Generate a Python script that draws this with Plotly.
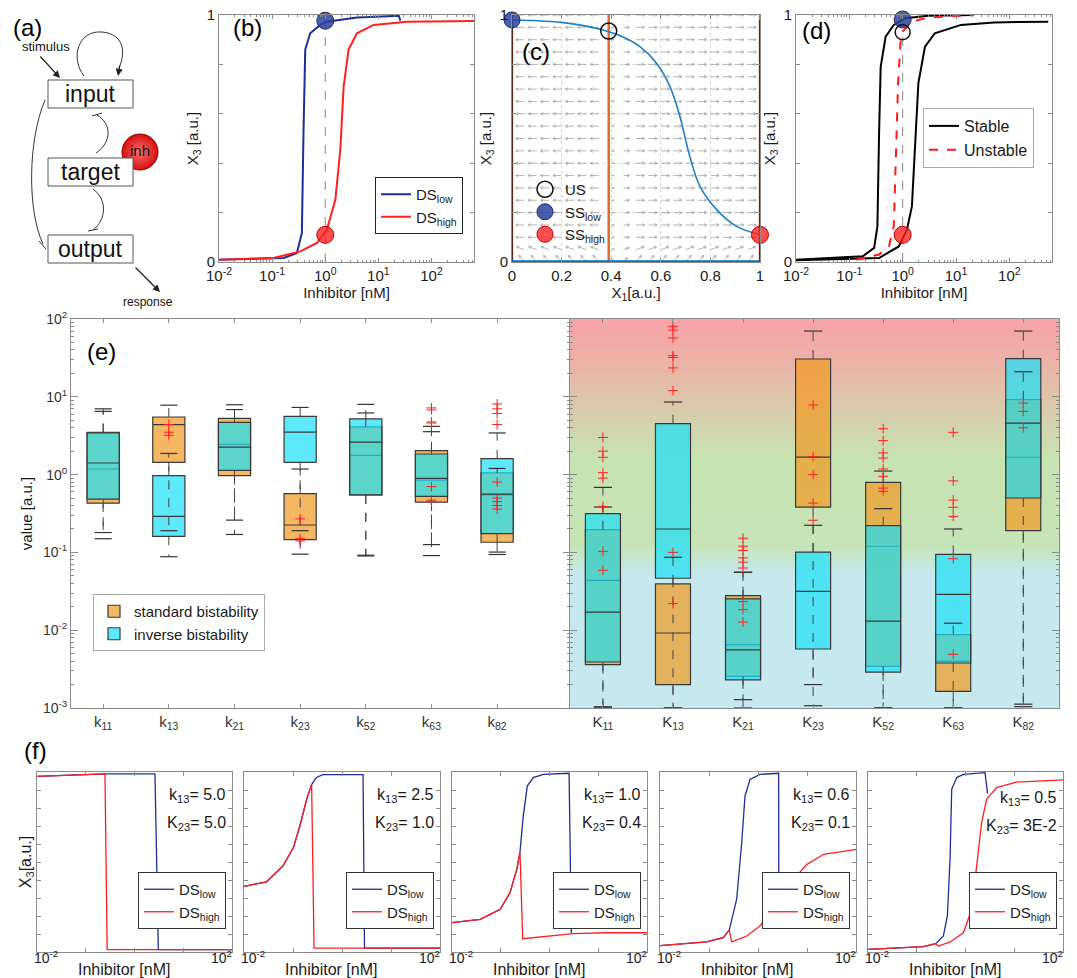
import math
import plotly.graph_objects as go

W, H = 1077, 978
FONT = "Liberation Sans, Arial, Helvetica, sans-serif"
AXC = "#8c8c8c"
TXT = "#1a1a1a"
BLUE_DS = "#1c2f94"
RED_DS = "#ff1f1f"
NULL_BLUE = "#1f7fc4"
ORANGE_LINE = "#dd6b30"


def px_x(p):
    return p / W


def px_y(p):
    return 1 - p / H


# ---------------------------------------------------------------- data
# panel (b): dose response, X3 vs inhibitor
b_low_inhibitor = [0.010, 0.164, 0.292, 0.363, 0.389, 0.420, 0.521, 0.805, 1.07, 3.95, 20.0, 24.2, 26.0]
b_low_x3 = [0.009, 0.016, 0.036, 0.117, 0.52, 0.86, 0.926, 0.96, 0.973, 0.99, 0.996, 0.997, 0.977]
b_high_inhibitor = [0.010, 0.106, 0.339, 0.697, 1.07, 1.55, 1.92, 2.22, 2.75, 3.95, 8.13, 34.7, 630]
b_high_x3 = [0.009, 0.016, 0.043, 0.077, 0.13, 0.252, 0.454, 0.71, 0.86, 0.926, 0.96, 0.973, 0.976]
b_inhibitor_ref = 1.0
b_ss_low_x3 = 0.977
b_ss_high_x3 = 0.11

# panel (c): phase plane
c_null_x1 = [0, 0.1, 0.2, 0.3, 0.388, 0.45, 0.516, 0.583, 0.637, 0.677, 0.717, 0.758, 0.825, 0.906, 1.0]
c_null_x3 = [0.98, 0.977, 0.97, 0.955, 0.933, 0.91, 0.872, 0.805, 0.71, 0.589, 0.427, 0.306, 0.212, 0.144, 0.11]
c_orange_x1 = [0.0, 0.39, 1.0]
c_black_x1 = [0.0, 1.0]
c_black_top = 0.98
c_us = (0.39, 0.935)
c_ss_low = (0.0, 0.98)
c_ss_high = (1.0, 0.11)
quiver_cols = [round(0.05 * i, 2) for i in range(1, 20)]
quiver_rows = [round(0.05 * j, 2) for j in range(0, 21)]
quiver_dir = [-1] * 7 + [1] * 12
quiver_len = [0.035] * 7 + [0.012, 0.024] + [0.035] * 10
quiver_tilt = [50, 20] + [0] * 19

# panel (d): bifurcation
d_stable_low_inhibitor = [0.01, 0.178, 0.292, 0.336, 0.361, 0.387, 0.479, 0.682, 1.12, 3.02, 21.9]
d_stable_low_x3 = [0.009, 0.023, 0.057, 0.144, 0.52, 0.79, 0.912, 0.96, 0.987, 0.997, 1.0]
d_stable_high_inhibitor = [0.01, 0.361, 0.843, 1.20, 1.49, 1.71, 1.97, 2.62, 4.01, 12.4, 51.3, 537]
d_stable_high_x3 = [0.007, 0.016, 0.063, 0.13, 0.225, 0.454, 0.724, 0.872, 0.926, 0.96, 0.97, 0.973]
d_unstable_inhibitor = [0.134, 0.361, 0.552, 0.682, 0.753, 0.820, 0.906, 1.0, 1.49, 3.02, 21.9]
d_unstable_x3 = [0.009, 0.03, 0.063, 0.144, 0.454, 0.724, 0.885, 0.933, 0.973, 0.99, 1.0]
d_ss_low_x3 = 0.982
d_us_x3 = 0.93
d_ss_high_x3 = 0.11

# panel (e): parameter distributions (box statistics)
params_small = ["k<sub>11</sub>", "k<sub>13</sub>", "k<sub>21</sub>", "k<sub>23</sub>",
                "k<sub>52</sub>", "k<sub>63</sub>", "k<sub>82</sub>"]
params_big = ["K<sub>11</sub>", "K<sub>13</sub>", "K<sub>21</sub>", "K<sub>23</sub>",
              "K<sub>52</sub>", "K<sub>63</sub>", "K<sub>82</sub>"]

std_small_q1 = [0.43, 1.44, 0.97, 0.146, 0.55, 0.443, 0.135]
std_small_med = [1.18, 4.38, 2.45, 0.225, 1.77, 0.85, 0.55]
std_small_q3 = [3.5, 5.5, 5.29, 0.569, 4.1, 2.03, 1.05]
std_small_lo = [0.15, 0.19, 0.17, 0.095, 0.09, 0.091, 0.094]
std_small_hi = [7.0, 7.8, 7.9, 1.18, 6.2, 3.56, 1.2]

inv_small_q1 = [0.485, 0.161, 1.13, 1.44, 0.55, 0.525, 0.174]
inv_small_med = [1.41, 0.29, 2.26, 3.52, 2.62, 0.895, 0.56]
inv_small_q3 = [3.43, 0.97, 4.7, 5.6, 5.19, 1.84, 1.6]
inv_small_lo = [0.18, 0.088, 0.26, 0.19, 0.092, 0.126, 0.101]
inv_small_hi = [6.5, 1.87, 6.85, 7.3, 8.0, 4.17, 3.43]

std_big_q1 = [0.0036, 0.002, 0.00255, 0.383, 0.00343, 0.00164, 0.19]
std_big_med = [0.0438, 0.0092, 0.00652, 1.68, 0.12, 0.004, 1.67]
std_big_q3 = [0.196, 0.0393, 0.0278, 30.6, 0.796, 0.00877, 9.18]
std_big_lo = [0.00103, 0.001, 0.00128, 0.00107, 0.001, 0.001, 0.00112]
std_big_hi = [0.383, 0.0865, 0.0555, 70, 1.11, 0.0123, 21]

inv_big_q1 = [0.0039, 0.0465, 0.0023, 0.00573, 0.0029, 0.00379, 0.5]
inv_big_med = [0.0171, 0.2, 0.00557, 0.0316, 0.0131, 0.0289, 4.6]
inv_big_q3 = [0.315, 4.52, 0.0252, 0.101, 0.221, 0.0944, 30.9]
inv_big_lo = [0.00103, 0.001, 0.001, 0.002, 0.001, 0.001, 0.00104]
inv_big_hi = [0.685, 8.57, 0.0555, 0.223, 0.365, 0.2, 70]

out_small_idx = [1, 1, 1, 3, 3, 3, 5, 5, 5, 5, 5, 5, 5, 6, 6, 6, 6, 6, 6, 6, 6, 6]
out_small_val = [4.4, 3.5, 3.2, 0.27, 0.15, 0.14, 7.2, 6.8, 4.75, 4.6, 0.7, 0.47, 0.45,
                 8.1, 7.0, 6.1, 4.4, 0.8, 0.5, 0.45, 0.4, 0.36]
out_big_idx = [0] * 8 + [1] * 9 + [2] * 9 + [3] * 5 + [4] * 8 + [5] * 7 + [6] * 3
out_big_val = [3.0, 2.0, 1.67, 1.06, 0.9, 0.39, 0.103, 0.059,
               80, 72, 57, 33.8, 32, 23.5, 12, 0.1, 0.022,
               0.152, 0.12, 0.106, 0.085, 0.075, 0.063, 0.0233, 0.0184, 0.0127,
               7.85, 1.7, 1.0, 0.43, 0.259,
               3.89, 2.73, 1.9, 1.63, 1.18, 0.95, 0.67, 0.61,
               3.49, 0.83, 0.47, 0.38, 0.29, 0.083, 0.0049,
               8.3, 6.5, 4.0]

# panel (f): five dose-response examples
f_k13 = ["5.0", "2.5", "1.0", "0.6", "0.5"]
f_K23 = ["5.0", "1.0", "0.4", "0.1", "3E-2"]
f_low_inhibitor = [
    [0.01, 0.248, 2.63, 3.08, 100],
    [0.01, 0.0288, 0.0631, 0.102, 0.138, 0.191, 0.240, 0.30, 0.407, 2.69, 2.88, 100],
    [0.01, 0.038, 0.0977, 0.155, 0.214, 0.248, 0.29, 0.35, 0.465, 0.743, 2.52, 2.81],
    [0.01, 0.089, 0.195, 0.259, 0.367, 0.465, 0.543, 0.687, 1.1, 2.64, 2.66],
    [0.01, 0.137, 0.245, 0.352, 0.425, 0.482, 0.521, 0.661, 0.904, 2.51, 2.84],
]
f_low_x3 = [
    [0.976, 0.99, 0.99, 0.013, 0.013],
    [0.365, 0.39, 0.48, 0.58, 0.70, 0.85, 0.93, 0.97, 0.985, 0.985, 0.022, 0.022],
    [0.163, 0.181, 0.237, 0.33, 0.46, 0.556, 0.756, 0.922, 0.969, 0.987, 0.993, 0.104],
    [0.035, 0.056, 0.08, 0.122, 0.293, 0.607, 0.867, 0.959, 0.987, 0.993, 0.30],
    [0.015, 0.03, 0.046, 0.089, 0.2, 0.515, 0.904, 0.969, 0.987, 0.996, 0.88],
]
f_high_inhibitor = [
    [0.01, 0.248, 0.275, 100],
    [0.01, 0.0288, 0.0631, 0.102, 0.138, 0.191, 0.240, 0.269, 100],
    [0.01, 0.038, 0.0977, 0.155, 0.214, 0.248, 0.282, 0.635, 3.04, 14.5, 100],
    [0.01, 0.089, 0.195, 0.259, 0.29, 0.589, 1.1, 2.09, 4.57, 10, 21.9, 100],
    [0.01, 0.137, 0.245, 0.279, 0.482, 0.904, 1.34, 1.69, 2.14, 2.71, 4.34, 11.1, 100],
]
f_high_x3 = [
    [0.976, 0.99, 0.013, 0.013],
    [0.365, 0.39, 0.48, 0.58, 0.70, 0.85, 0.93, 0.022, 0.022],
    [0.163, 0.181, 0.237, 0.33, 0.46, 0.556, 0.074, 0.083, 0.102, 0.107, 0.107],
    [0.035, 0.056, 0.08, 0.122, 0.056, 0.089, 0.144, 0.256, 0.385, 0.487, 0.543, 0.57],
    [0.015, 0.03, 0.046, 0.033, 0.056, 0.107, 0.237, 0.478, 0.719, 0.848, 0.913, 0.944, 0.956],
]

# ---------------------------------------------------------------- layout geometry
fig = go.Figure()
tickfont = dict(family=FONT, size=15, color=TXT)
titlefont = dict(family=FONT, size=15, color=TXT)


def common(**kw):
    d = dict(showline=True, linecolor=AXC, linewidth=1, mirror="ticks", ticks="inside",
             ticklen=4, tickcolor=AXC, showgrid=False, zeroline=False, tickfont=tickfont,
             fixedrange=True)
    d.update(kw)
    return d


def log_minor(lo, hi):
    return [m * 10 ** e for e in range(lo, hi) for m in range(2, 10)]


def sup(e):
    return "10<sup>%d</sup>" % e


axes = {}


def set_axes(n, xpx, ypx, xkw, ykw):
    s = "" if n == 1 else str(n)
    axes["xaxis" + s] = common(domain=[px_x(xpx[0]), px_x(xpx[1])], anchor="y" + s, **xkw)
    axes["yaxis" + s] = common(domain=[px_y(ypx[1]), px_y(ypx[0])], anchor="x" + s, **ykw)


inhib_x = dict(type="log", range=[-2, 2.8], tickmode="array",
               tickvals=[0.01, 0.1, 1, 10, 100], ticktext=[sup(e) for e in range(-2, 3)],
               minor=dict(tickvals=log_minor(-2, 3), ticks="inside", ticklen=2, tickcolor=AXC),
               title=dict(text="Inhibitor [nM]", font=titlefont, standoff=3))
unit_y = dict(range=[0, 1], tickmode="array", tickvals=[0, 1], ticktext=["0", "1"],
              minor=dict(tickvals=[0.2, 0.4, 0.6, 0.8], ticks="inside", ticklen=4, tickcolor=AXC),
              title=dict(text="X<sub>3</sub> [a.u.]", font=titlefont, standoff=4))

# (b)
set_axes(1, (219, 474), (15, 262), inhib_x, unit_y)
# (c)
set_axes(2, (512, 760), (15, 262),
         dict(range=[0, 1], tickmode="array", tickvals=[0, 0.2, 0.4, 0.6, 0.8, 1],
              ticktext=["0", "0.2", "0.4", "0.6", "0.8", "1"],
              minor=dict(tickvals=[0.2, 0.4, 0.6, 0.8], showgrid=True, gridcolor="#d6d6d6",
                         griddash="dot", ticks=""),
              title=dict(text="X<sub>1</sub>[a.u.]", font=titlefont, standoff=0)),
         dict(unit_y, minor=dict(tickvals=[0.2, 0.4, 0.6, 0.8], ticks="inside", ticklen=4,
                                 tickcolor=AXC, showgrid=True, gridcolor="#d6d6d6", griddash="dot")))
# (d)
set_axes(3, (796, 1052), (15, 262), inhib_x, unit_y)

# (e)
e_y = dict(type="log", range=[-3, 2], tickmode="array",
           tickvals=[1e-3, 1e-2, 1e-1, 1, 10, 100], ticktext=[sup(e) for e in range(-3, 3)],
           minor=dict(tickvals=log_minor(-3, 2), ticks="inside", ticklen=3, tickcolor=AXC),
           ticklen=7, tickfont=dict(family=FONT, size=14, color="#333"))
set_axes(4, (71, 570), (319, 708),
         dict(range=[-0.49, 7.11], tickmode="array", tickvals=list(range(7)), ticktext=params_small,
              tickfont=dict(family=FONT, size=15, color="#333")),
         dict(e_y, title=dict(text="value [a.u.]", font=titlefont, standoff=6)))
set_axes(5, (570, 1059), (319, 708),
         dict(range=[-0.47, 6.51], tickmode="array", tickvals=list(range(7)), ticktext=params_big,
              tickfont=dict(family=FONT, size=15, color="#333")),
         dict(e_y, showticklabels=False))

# (f)
f_panels = [(37, 232), (244, 440), (452, 647), (660, 856), (868, 1063)]
for i, (l, r) in enumerate(f_panels):
    ykw = dict(range=[0, 1], tickmode="array", tickvals=[0.1 * k for k in range(1, 10)],
               showticklabels=False)
    if i == 0:
        ykw["title"] = dict(text="X<sub>3</sub>[a.u.]", font=dict(family=FONT, size=16, color=TXT),
                            standoff=0)
    set_axes(6 + i, (l, r), (772, 952),
             dict(type="log", range=[-2, 2], tickmode="array", tickvals=[0.1, 1, 10],
                  showticklabels=False),
             ykw)

# (a) diagram canvas
axes["xaxis11"] = dict(domain=[0, px_x(190)], range=[0, 190], visible=False, fixedrange=True,
                       anchor="y11")
axes["yaxis11"] = dict(domain=[px_y(310), 1], range=[310, 0], visible=False, fixedrange=True,
                       anchor="x11")

shapes = []
annotations = []

# ---------------------------------------------------------------- (a) diagram
for (x0, y0, x1, y1) in [(48, 80, 133, 108), (48, 158, 133, 186), (48, 235, 133, 263)]:
    shapes.append(dict(type="rect", xref="x11", yref="y11", x0=x0, y0=y0, x1=x1, y1=y1,
                       line=dict(color="#555", width=1), fillcolor="white"))
for p in ["M 84 76 C 70 58, 78 30, 102 32 C 124 34, 126 52, 119 68",
          "M 96 153 C 112 142, 112 124, 97 115", "M 92 116 L 102 113",
          "M 93 189 C 108 200, 106 220, 93 230", "M 88 231 L 98 229",
          "M 45 100 C 28 140, 27 210, 43 244", "M 39 241 L 46 249"]:
    shapes.append(dict(type="path", xref="x11", yref="y11", path=p,
                       line=dict(color="#333", width=1)))
for (tx, ty, hx, hy) in [(39, 55, 60, 78), (120, 64, 118, 76), (134, 266, 160, 292)]:
    annotations.append(dict(xref="x11", yref="y11", axref="x11", ayref="y11", x=hx, y=hy,
                            ax=tx, ay=ty, text="", showarrow=True, arrowhead=2, arrowsize=1.1,
                            arrowwidth=1.3, arrowcolor="#222", standoff=0))
for (t, x, y, s) in [("stimulus", 46, 46, 13), ("input", 90, 94, 23), ("target", 90, 172, 23),
                     ("output", 90, 249, 23), ("response", 148, 302, 12)]:
    annotations.append(dict(xref="x11", yref="y11", x=x, y=y, text=t, showarrow=False,
                            font=dict(family=FONT, size=s, color="#111")))
fig.add_trace(go.Scatter(x=[140], y=[152], mode="markers+text", text=["inh"],
                         textfont=dict(family=FONT, size=15, color="#111"),
                         marker=dict(size=36, color="#d40f0f",
                                     gradient=dict(type="radial", color="#ff7070"),
                                     line=dict(color="#8a0000", width=1)),
                         xaxis="x11", yaxis="y11", showlegend=False, hoverinfo="skip",
                         cliponaxis=False))

# ---------------------------------------------------------------- (b)
fig.add_trace(go.Scatter(x=[b_inhibitor_ref, b_inhibitor_ref], y=[0, 1], mode="lines",
                         line=dict(color="#888", width=1, dash="dash"), showlegend=False,
                         hoverinfo="skip", xaxis="x", yaxis="y"))
fig.add_trace(go.Scatter(x=b_low_inhibitor, y=b_low_x3, mode="lines", name="DS<sub>low</sub>",
                         line=dict(color=BLUE_DS, width=2), xaxis="x", yaxis="y", legend="legend"))
fig.add_trace(go.Scatter(x=b_high_inhibitor, y=b_high_x3, mode="lines", name="DS<sub>high</sub>",
                         line=dict(color=RED_DS, width=2), xaxis="x", yaxis="y", legend="legend"))
fig.add_trace(go.Scatter(x=[b_inhibitor_ref], y=[b_ss_low_x3], mode="markers", showlegend=False,
                         marker=dict(size=17, color="rgba(45,65,155,0.85)",
                                     line=dict(color="#1d2c70", width=1)),
                         xaxis="x", yaxis="y", cliponaxis=False))
fig.add_trace(go.Scatter(x=[b_inhibitor_ref], y=[b_ss_high_x3], mode="markers", showlegend=False,
                         marker=dict(size=17, color="rgba(255,30,30,0.78)",
                                     line=dict(color="#c00000", width=1)),
                         xaxis="x", yaxis="y", cliponaxis=False))

# ---------------------------------------------------------------- (c)
qx, qy = [], []
for ci, x in enumerate(quiver_cols):
    for rj, y in enumerate(quiver_rows):
        tilt = math.radians(quiver_tilt[rj])
        th = tilt if quiver_dir[ci] > 0 else math.pi - tilt
        L = quiver_len[ci]
        tx, ty = x + L * math.cos(th), y + L * math.sin(th)
        qx += [x, tx, None]
        qy += [y, ty, None]
        hl = min(0.012, 0.6 * L)
        for da in (0.5, -0.5):
            qx += [tx, tx - hl * math.cos(th + da), None]
            qy += [ty, ty - hl * math.sin(th + da), None]
fig.add_trace(go.Scatter(x=qx, y=qy, mode="lines", line=dict(color="#a3a3a3", width=0.8),
                         showlegend=False, hoverinfo="skip", xaxis="x2", yaxis="y2"))
for xv in c_orange_x1:
    fig.add_trace(go.Scatter(x=[xv, xv], y=[0, 1], mode="lines",
                             line=dict(color=ORANGE_LINE, width=2.5), showlegend=False,
                             hoverinfo="skip", xaxis="x2", yaxis="y2", cliponaxis=False))
for xv in c_black_x1:
    fig.add_trace(go.Scatter(x=[xv, xv], y=[0, c_black_top], mode="lines",
                             line=dict(color="#111", width=1.4), showlegend=False,
                             hoverinfo="skip", xaxis="x2", yaxis="y2", cliponaxis=False))
fig.add_trace(go.Scatter(x=[0, 1], y=[0, 0], mode="lines", line=dict(color="#0072bd", width=3.5),
                         showlegend=False, hoverinfo="skip", xaxis="x2", yaxis="y2",
                         cliponaxis=False))
fig.add_trace(go.Scatter(x=c_null_x1, y=c_null_x3, mode="lines", line=dict(color=NULL_BLUE, width=1.6),
                         showlegend=False, hoverinfo="skip", xaxis="x2", yaxis="y2",
                         line_shape="spline"))
fig.add_trace(go.Scatter(x=[c_us[0]], y=[c_us[1]], mode="markers", name="US",
                         marker=dict(symbol="circle-open", size=16, color="#111",
                                     line=dict(width=1.5)),
                         xaxis="x2", yaxis="y2", legend="legend2", cliponaxis=False))
fig.add_trace(go.Scatter(x=[c_ss_low[0]], y=[c_ss_low[1]], mode="markers", name="SS<sub>low</sub>",
                         marker=dict(size=16, color="rgba(45,65,155,0.85)",
                                     line=dict(color="#1d2c70", width=1)),
                         xaxis="x2", yaxis="y2", legend="legend2", cliponaxis=False))
fig.add_trace(go.Scatter(x=[c_ss_high[0]], y=[c_ss_high[1]], mode="markers", name="SS<sub>high</sub>",
                         marker=dict(size=17, color="rgba(255,30,30,0.78)",
                                     line=dict(color="#c00000", width=1)),
                         xaxis="x2", yaxis="y2", legend="legend2", cliponaxis=False))

# ---------------------------------------------------------------- (d)
fig.add_trace(go.Scatter(x=[b_inhibitor_ref, b_inhibitor_ref], y=[0, 1], mode="lines",
                         line=dict(color="#888", width=1, dash="dash"), showlegend=False,
                         hoverinfo="skip", xaxis="x3", yaxis="y3"))
fig.add_trace(go.Scatter(x=d_stable_low_inhibitor, y=d_stable_low_x3, mode="lines", name="Stable",
                         line=dict(color="#000", width=2), xaxis="x3", yaxis="y3", legend="legend3"))
fig.add_trace(go.Scatter(x=d_stable_high_inhibitor, y=d_stable_high_x3, mode="lines", name="Stable",
                         line=dict(color="#000", width=2), xaxis="x3", yaxis="y3", showlegend=False))
fig.add_trace(go.Scatter(x=d_unstable_inhibitor, y=d_unstable_x3, mode="lines", name="Unstable",
                         line=dict(color="#ff1a1a", width=2, dash="dash"), xaxis="x3", yaxis="y3",
                         legend="legend3"))
fig.add_trace(go.Scatter(x=[b_inhibitor_ref], y=[d_ss_low_x3], mode="markers", showlegend=False,
                         marker=dict(size=17, color="rgba(45,65,155,0.85)",
                                     line=dict(color="#1d2c70", width=1)),
                         xaxis="x3", yaxis="y3", cliponaxis=False))
fig.add_trace(go.Scatter(x=[b_inhibitor_ref], y=[d_us_x3], mode="markers", showlegend=False,
                         marker=dict(symbol="circle-open", size=15, color="#111", line=dict(width=1.5)),
                         xaxis="x3", yaxis="y3", cliponaxis=False))
fig.add_trace(go.Scatter(x=[b_inhibitor_ref], y=[d_ss_high_x3], mode="markers", showlegend=False,
                         marker=dict(size=17, color="rgba(255,30,30,0.78)",
                                     line=dict(color="#c00000", width=1)),
                         xaxis="x3", yaxis="y3", cliponaxis=False))

# ---------------------------------------------------------------- (e)
# gradient background of the right half (a one-column heatmap in the plot area)
grad_stops = [(0.0, (197, 233, 238)), (0.34, (197, 233, 238)), (0.42, (198, 228, 182)),
              (0.64, (199, 227, 178)), (0.72, (210, 212, 174)), (0.8, (222, 196, 170)),
              (0.9, (238, 176, 167)), (1.0, (247, 162, 168))]
NSTRIP = 100
grad_edges = [10 ** (-3 + 5 * k / NSTRIP) for k in range(NSTRIP + 1)]
grad_z = [[(k + 0.5) / NSTRIP] for k in range(NSTRIP)]
fig.add_trace(go.Heatmap(x=[-0.47, 6.51], y=grad_edges, z=grad_z, zmin=0, zmax=1,
                         colorscale=[[f, "rgb(%d,%d,%d)" % c] for f, c in grad_stops],
                         showscale=False, hoverinfo="skip", xaxis="x5", yaxis="y5"))

ORANGE_FILL = "rgba(241,152,31,0.70)"
CYAN_FILL = "rgba(26,224,248,0.70)"


def add_whiskers(xa, ya, q1, q3, lo, hi, capw):
    wx, wy, cx, cy = [], [], [], []
    for i in range(len(q1)):
        wx += [i, i, None, i, i, None]
        wy += [q3[i], hi[i], None, q1[i], lo[i], None]
        cx += [i - capw, i + capw, None, i - capw, i + capw, None]
        cy += [hi[i], hi[i], None, lo[i], lo[i], None]
    fig.add_trace(go.Scatter(x=wx, y=wy, mode="lines", line=dict(color="#444", width=1, dash="dash"),
                             showlegend=False, hoverinfo="skip", xaxis=xa, yaxis=ya, cliponaxis=False))
    fig.add_trace(go.Scatter(x=cx, y=cy, mode="lines", line=dict(color="#333", width=1.2),
                             showlegend=False, hoverinfo="skip", xaxis=xa, yaxis=ya, cliponaxis=False))


def add_box(xa, ya, q1, med, q3, fill, name, show, width):
    fig.add_trace(go.Box(x=list(range(len(q1))), q1=q1, median=med, q3=q3, lowerfence=q1,
                         upperfence=q3, orientation="v", width=width, whiskerwidth=0,
                         fillcolor=fill, line=dict(color="#3a3a3a", width=1.2), boxpoints=False,
                         name=name, showlegend=show, legend="legend4", xaxis=xa, yaxis=ya,
                         hoverinfo="skip"))


for (xa, ya, sq1, smed, sq3, slo, shi, iq1, imed, iq3, ilo, ihi, oidx, oval, show, wid) in [
    ("x4", "y4", std_small_q1, std_small_med, std_small_q3, std_small_lo, std_small_hi,
     inv_small_q1, inv_small_med, inv_small_q3, inv_small_lo, inv_small_hi,
     out_small_idx, out_small_val, True, 0.49),
    ("x5", "y5", std_big_q1, std_big_med, std_big_q3, std_big_lo, std_big_hi,
     inv_big_q1, inv_big_med, inv_big_q3, inv_big_lo, inv_big_hi,
     out_big_idx, out_big_val, False, 0.5),
]:
    add_whiskers(xa, ya, sq1, sq3, slo, shi, 0.13)
    add_whiskers(xa, ya, iq1, iq3, ilo, ihi, 0.13)
    fig.add_trace(go.Scatter(x=oidx, y=oval, mode="markers",
                             marker=dict(symbol="cross-thin", size=7, line=dict(color="#ff2020", width=1)),
                             showlegend=False, hoverinfo="skip", xaxis=xa, yaxis=ya))
    add_box(xa, ya, sq1, smed, sq3, ORANGE_FILL, "standard bistability", show, wid)
    add_box(xa, ya, iq1, imed, iq3, CYAN_FILL, "inverse bistability", show, wid)

# ---------------------------------------------------------------- (f)
for i, (l, r) in enumerate(f_panels):
    xa, ya, lg = "x%d" % (6 + i), "y%d" % (6 + i), "legend%d" % (5 + i)
    fig.add_trace(go.Scatter(x=f_low_inhibitor[i], y=f_low_x3[i], mode="lines", name="DS<sub>low</sub>",
                             line=dict(color=BLUE_DS, width=1.3), xaxis=xa, yaxis=ya, legend=lg))
    fig.add_trace(go.Scatter(x=f_high_inhibitor[i], y=f_high_x3[i], mode="lines", name="DS<sub>high</sub>",
                             line=dict(color=RED_DS, width=1.3), xaxis=xa, yaxis=ya, legend=lg))
    if i < 4:
        ty1, ty2 = 795, 823
    else:
        ty1, ty2 = 798, 826
    for txt, ty in [("k<sub>13</sub>= " + f_k13[i], ty1), ("K<sub>23</sub>= " + f_K23[i], ty2)]:
        annotations.append(dict(xref="paper", yref="paper", x=px_x(r - 4), y=px_y(ty),
                                xanchor="right", yanchor="middle", showarrow=False, text=txt,
                                font=dict(family=FONT, size=16, color=TXT)))
    # end tick labels of the log axis (drawn at the ends, as in the reference)
    annotations.append(dict(xref="paper", yref="paper", x=px_x(l - 5), y=px_y(957),
                            xanchor="left", yanchor="middle", showarrow=False, text=sup(-2),
                            font=dict(family=FONT, size=14, color=TXT)))
    annotations.append(dict(xref="paper", yref="paper", x=px_x(r + 2), y=px_y(957),
                            xanchor="right", yanchor="middle", showarrow=False, text=sup(2),
                            font=dict(family=FONT, size=14, color=TXT)))
    annotations.append(dict(xref="paper", yref="paper", x=px_x((l + r) / 2 - 11), y=px_y(969),
                            xanchor="center", yanchor="middle", showarrow=False,
                            text="Inhibitor [nM]", font=dict(family=FONT, size=16, color=TXT)))

# ---------------------------------------------------------------- panel labels
for (t, x, y) in [("(b)", 231, 12), ("(c)", 520, 36), ("(d)", 800, 15), ("(e)", 85, 336),
                  ("(f)", 22, 735), ("(a)", 11, 12)]:
    annotations.append(dict(xref="paper", yref="paper", x=px_x(x), y=px_y(y), xanchor="left",
                            yanchor="top", showarrow=False, text=t,
                            font=dict(family=FONT, size=24, color="#000")))


# ---------------------------------------------------------------- legends
def legend_box(x, y, xanchor, yanchor, border="#222", size=15, bg="white", bw=1):
    return dict(x=px_x(x), y=px_y(y), xanchor=xanchor, yanchor=yanchor, bordercolor=border,
                borderwidth=bw, bgcolor=bg, font=dict(family=FONT, size=size, color=TXT),
                tracegroupgap=0, itemwidth=30, traceorder="normal")


legends = {
    "legend": legend_box(463, 177, "right", "top"),
    "legend2": legend_box(525, 173, "left", "top", bg="rgba(0,0,0,0)", bw=0),
    "legend3": legend_box(923, 108, "left", "top", border="#aaa", size=16),
    "legend4": legend_box(93, 594, "left", "top", border="#aaa", size=15),
}
for i, (l, r) in enumerate(f_panels):
    legends["legend%d" % (5 + i)] = legend_box(r - 6, 929, "right", "bottom", border="#333", size=15)

fig.update_layout(
    width=W, height=H, autosize=False, margin=dict(l=0, r=0, t=0, b=0),
    paper_bgcolor="white", plot_bgcolor="white", template="none",
    font=dict(family=FONT, color=TXT), boxmode="overlay", showlegend=True,
    shapes=shapes, annotations=annotations, **axes, **legends,
)

# the page body has a default 8px margin; remove it so the figure sits at the window origin
fig.write_html("out.html", config={"displayModeBar": False},
               post_script="document.body.style.margin='0';document.body.style.padding='0';")
